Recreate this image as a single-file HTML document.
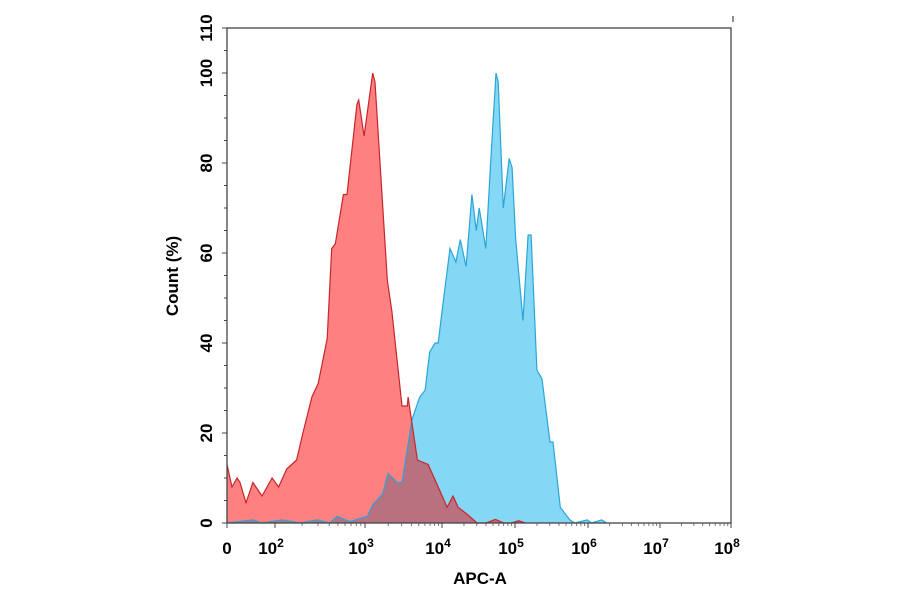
<!DOCTYPE html>
<html><head><meta charset="utf-8"><style>
body{margin:0;background:#fff;}
svg{display:block;font-family:"Liberation Sans",Arial,sans-serif;font-weight:bold;}
</style></head><body>
<svg width="900" height="594" viewBox="0 0 900 594">
<defs><clipPath id="redclip"><path id="redclipPath" d=""/></clipPath></defs>
<g id="plot"></g>
<g id="axes"></g>
</svg>
<script>
// Data (x in log10 units of APC-A, y in Count %)
const redX = [0,0.21,0.42,0.54,0.79,1.08,1.46,1.88,2.04,2.13,2.24,2.31,2.41,2.48,2.58,2.63,2.67,2.76,2.8,2.91,2.93,2.99,3.10,3.13,3.29,3.35,3.48,3.55,3.56,3.68,3.82,3.95,4.07,4.15,4.22,4.34,4.48,4.6,4.73,4.85,4.95,5.05,5.14];
const redY = [13,8,10,9,4.5,9,6,10,8,12,14,20,28,31,41,61,62,73,73,93,94,86,100,98,54,47,26,26,28,14,13,8,3.5,6,3.5,2,0,0,0.8,0,0,0.5,0];
const blueX = [0,1.08,1.46,2.08,2.28,2.47,2.61,2.69,2.83,2.94,3.03,3.10,3.23,3.30,3.42,3.48,3.61,3.71,3.78,3.84,3.91,3.95,4.0,4.11,4.19,4.25,4.33,4.41,4.47,4.51,4.60,4.67,4.74,4.77,4.84,4.92,4.96,5.01,5.11,5.18,5.22,5.30,5.37,5.48,5.52,5.62,5.75,5.82,5.99,6.05,6.19,6.26];
const blueY = [0,0.7,0,0.7,0,0.7,0,1.5,0.3,1,1.5,4,6.5,11,9,9,23,28,29.5,38,40,40,47,61,58,63,57,73,65,70,61,81,100,98,70,81,79,63,45,64,64,34,32,18,18,3.5,0.7,0,0.7,0,0.7,0];
const yTicks = [0,20,40,60,80,100,110];
const xTickVals = [0,2,3,4,5,6,7,8];
const xTickLabels = ["0","10|2","10|3","10|4","10|5","10|6","10|7","10|8"];

const NS="http://www.w3.org/2000/svg";
const X0=227,X1=731,Y0=523,YTOP=28;
const xKnots=[0,2,3,4,5,6,7,8], xPx=[227,275,365,442,515,588,660,731];
function xs(u){for(let i=0;i<xKnots.length-1;i++){if(u<=xKnots[i+1]||i==xKnots.length-2){return xPx[i]+(u-xKnots[i])/(xKnots[i+1]-xKnots[i])*(xPx[i+1]-xPx[i]);}}}
function ys(v){return Y0-v*4.5;}
function mk(tag,attrs,parent){const e=document.createElementNS(NS,tag);for(const k in attrs)e.setAttribute(k,attrs[k]);parent.appendChild(e);return e;}
function areaPath(X,Y){let d="M"+xs(X[0]).toFixed(1)+","+Y0;for(let i=0;i<X.length;i++)d+=" L"+xs(X[i]).toFixed(1)+","+ys(Y[i]).toFixed(1);d+=" L"+xs(X[X.length-1]).toFixed(1)+","+Y0+" Z";return d;}
function linePath(X,Y){let d="";for(let i=0;i<X.length;i++)d+=(i?" L":"M")+xs(X[i]).toFixed(1)+","+ys(Y[i]).toFixed(1);return d;}
const plot=document.getElementById('plot'), axes=document.getElementById('axes');
const rd=areaPath(redX,redY), bd=areaPath(blueX,blueY);
document.getElementById('redclipPath').setAttribute('d',rd);
const rf=mk('path',{d:rd,fill:'#ff8080'},plot);


const bf=mk('path',{d:bd,fill:'#84d8f6'},plot);


const ov=mk('path',{d:bd,fill:'#b9707f','clip-path':'url(#redclip)'},plot);


const bl=mk('path',{d:linePath(blueX,blueY),fill:'none',stroke:'#2aa6d6','stroke-width':1.2},plot);


const rl=mk('path',{d:linePath(redX,redY),fill:'none',stroke:'#c8252b','stroke-width':1.2},plot);


// frame
const fr=mk('rect',{x:X0,y:YTOP,width:X1-X0,height:Y0-YTOP,fill:'none',stroke:'#444','stroke-width':1.3},axes);


mk('line',{x1:733,y1:16,x2:733,y2:22,stroke:'#444','stroke-width':1.2},axes);
// y ticks
for(let v=0;v<=110;v+=5){const major=v%20==0||v==110;mk('line',{x1:X0-(major?5:3),y1:ys(v),x2:X0,y2:ys(v),stroke:'#444','stroke-width':1},axes);}
yTicks.forEach(v=>{const t=mk('text',{x:0,y:0,'font-size':17,'text-anchor':'middle',transform:`translate(212,${ys(v)}) rotate(-90)`},axes);t.textContent=v;

});
const yt=mk('text',{'font-size':17,'text-anchor':'middle',transform:'translate(178,276) rotate(-90)'},axes);yt.textContent='Count (%)';


// x ticks
xTickVals.forEach(u=>{mk('line',{x1:xs(u),y1:Y0,x2:xs(u),y2:Y0+5,stroke:'#444','stroke-width':1},axes);});
for(let d=2;d<8;d++){for(let m=2;m<10;m++){const u=d+Math.log10(m);mk('line',{x1:xs(u),y1:Y0,x2:xs(u),y2:Y0+3,stroke:'#555','stroke-width':0.8},axes);}}
xTickVals.forEach((u,i)=>{const p=xTickLabels[i].split('|');const t=mk('text',{x:xs(u)-(p[1]?4:0),y:554,'font-size':17,'text-anchor':'middle'},axes);t.textContent=p[0];


if(p[1]){const s=mk('tspan',{dy:-7,'font-size':12},t);s.textContent=p[1];}});
const xt=mk('text',{x:480,y:584,'font-size':17,'text-anchor':'middle'},axes);xt.textContent='APC-A';


</script>
</body></html>
